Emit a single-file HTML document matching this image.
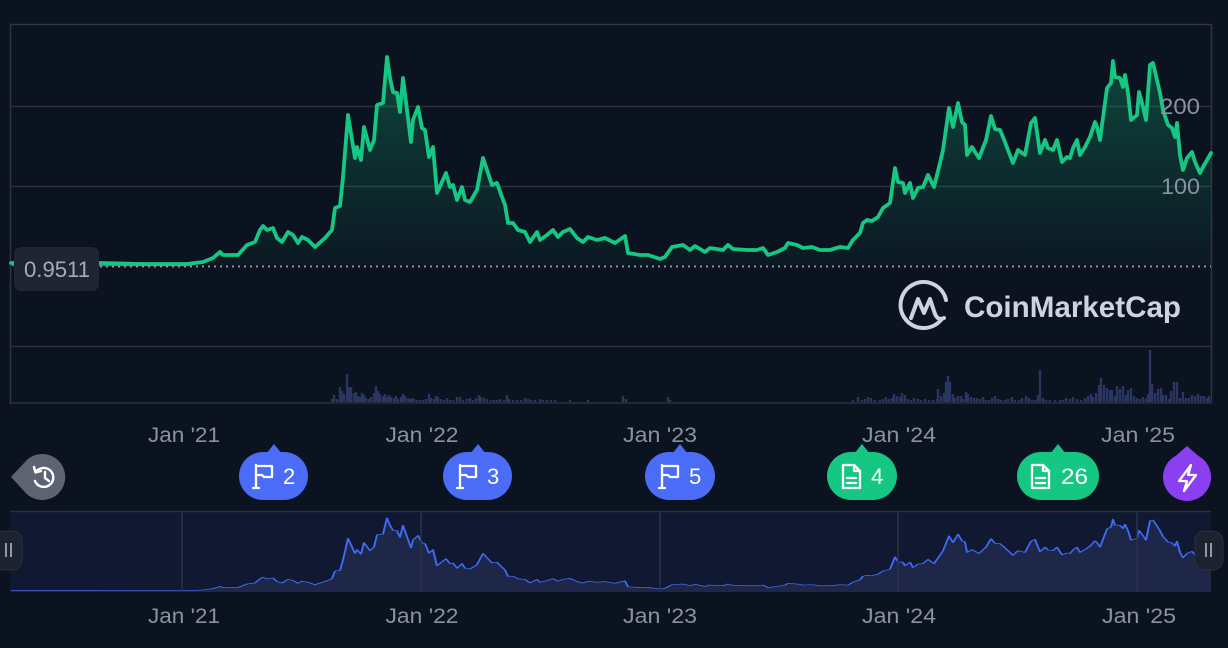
<!DOCTYPE html>
<html><head><meta charset="utf-8"><style>
html,body{margin:0;padding:0;background:#0b1320;}
svg{display:block;}
text{font-family:"Liberation Sans",sans-serif;}
</style></head><body>
<svg width="1228" height="648" viewBox="0 0 1228 648" xmlns="http://www.w3.org/2000/svg">
<defs>
<linearGradient id="gf" x1="0" y1="57" x2="0" y2="266" gradientUnits="userSpaceOnUse">
<stop offset="0" stop-color="#16c784" stop-opacity="0.28"/>
<stop offset="1" stop-color="#16c784" stop-opacity="0.03"/>
</linearGradient>
<clipPath id="navclip"><rect x="10" y="511" width="1201" height="81"/></clipPath>
<path id="pl" d="M11,263 L60,263 L100,263 L140,264 L187,264 L195,263 L203,262 L213,258 L220,252 L223,255 L238,255 L247,245 L255,242 L260,230 L263,226 L267,230 L273,228 L277,238 L282,242 L288,232 L293,235 L298,243 L302,237 L308,240 L315,247 L325,238 L332,230 L335,208 L340,206 L343,177 L348,115 L355,158 L357,147 L361,160 L364,127 L370,150 L374,140 L377,105 L383,103 L387,57 L390,78 L393,92 L397,93 L400,112 L403,78 L407,110 L411,142 L413,120 L418,107 L422,128 L425,130 L429,157 L433,147 L437,193 L446,173 L450,187 L453,185 L457,200 L462,187 L465,200 L470,202 L477,190 L483,158 L492,185 L497,183 L502,197 L505,205 L508,223 L513,223 L518,230 L525,232 L530,242 L537,232 L540,240 L547,235 L553,230 L558,237 L563,232 L570,229 L577,238 L583,242 L588,237 L597,240 L605,238 L615,243 L625,236 L628,253 L640,255 L648,255 L660,259 L665,257 L672,247 L683,245 L690,250 L695,246 L705,252 L710,248 L723,250 L728,245 L733,249 L747,250 L757,250 L763,248 L768,255 L777,252 L785,248 L788,243 L797,245 L803,248 L812,247 L820,250 L830,250 L840,247 L848,248 L853,240 L860,233 L863,223 L867,220 L872,221 L878,217 L883,208 L890,203 L895,168 L898,182 L903,183 L905,193 L910,183 L913,198 L918,188 L923,187 L928,175 L934,187 L940,163 L943,150 L949,108 L953,127 L958,103 L962,122 L965,125 L967,155 L972,147 L975,152 L979,158 L986,140 L991,116 L995,129 L1000,130 L1003,137 L1008,150 L1013,163 L1018,150 L1025,155 L1031,123 L1035,118 L1040,153 L1045,140 L1048,148 L1053,150 L1057,140 L1062,162 L1067,157 L1070,158 L1073,148 L1077,140 L1080,155 L1085,147 L1090,137 L1095,122 L1097,127 L1100,140 L1107,88 L1111,83 L1113,61 L1115,77 L1120,78 L1123,87 L1125,75 L1128,93 L1131,120 L1137,115 L1139,92 L1143,107 L1146,120 L1150,65 L1153,63 L1157,80 L1160,93 L1163,110 L1168,125 L1172,128 L1175,137 L1177,123 L1180,155 L1183,170 L1187,158 L1192,152 L1195,162 L1200,173 L1203,167 L1207,160 L1211,153"/>
</defs>

<rect x="0" y="0" width="1228" height="648" fill="#0b1320"/>

<!-- main frame -->
<line x1="10" y1="24.5" x2="1212" y2="24.5" stroke="#2e3542" stroke-width="1.5"/>
<line x1="10.5" y1="24" x2="10.5" y2="404" stroke="#2e3542" stroke-width="1.5"/>
<line x1="1211.5" y1="24" x2="1211.5" y2="404" stroke="#2e3542" stroke-width="1.5"/>
<line x1="10" y1="106.5" x2="1212" y2="106.5" stroke="#2a313d" stroke-width="1.5"/>
<line x1="10" y1="186.5" x2="1212" y2="186.5" stroke="#2a313d" stroke-width="1.5"/>
<line x1="10" y1="346.5" x2="1212" y2="346.5" stroke="#2a313d" stroke-width="1.5"/>
<line x1="10" y1="403" x2="1212" y2="403" stroke="#2a313d" stroke-width="1.5"/>

<!-- volume bars -->
<path stroke="#2b3561" stroke-width="2.4" fill="none" d="M332 402v-3M334 402v-7M337 402v-3M340 402v-15M342 402v-11M344 402v-8M347 402v-28M349 402v-15M351 402v-15M354 402v-9M356 402v-10M358 402v-6M360 402v-5M362 402v-9M364 402v-7M366 402v-4M369 402v-3M371 402v-5M374 402v-9M376 402v-16M378 402v-11M380 402v-8M383 402v-6M385 402v-8M387 402v-5M389 402v-7M391 402v-5M394 402v-4M396 402v-6M398 402v-3M401 402v-5M403 402v-8M405 402v-6M408 402v-4M410 402v-3M412 402v-4M414 402v-3M417 402v-2M420 402v-2M423 402v-2M426 402v-3M429 402v-8M431 402v-4M434 402v-3M436 402v-6M438 402v-5M441 402v-3M444 402v-2M447 402v-4M450 402v-2M453 402v-2M457 402v-5M460 402v-5M463 402v-2M467 402v-3M470 402v-4M473 402v-2M476 402v-4M479 402v-7M481 402v-5M484 402v-4M487 402v-3M491 402v-2M494 402v-2M497 402v-2M500 402v-3M504 402v-2M507 402v-7M509 402v-3M513 402v-2M517 402v-2M521 402v-2M525 402v-4M528 402v-3M531 402v-2M535 402v-2M540 402v-3M543 402v-2M547 402v-2M551 402v-2M555 402v-2M570 402v-2M588 402v-2M623 402v-6M626 402v-3M668 402v-5M670 402v-2
M853 402v-2M858 402v-5M862 402v-2M865 402v-3M868 402v-5M871 402v-4M875 402v-2M880 402v-2M883 402v-3M886 402v-5M889 402v-3M892 402v-4M894 402v-8M897 402v-6M900 402v-5M902 402v-9M905 402v-7M908 402v-3M911 402v-2M914 402v-4M918 402v-3M921 402v-2M925 402v-3M929 402v-2M933 402v-2M937 402v-3M938 402v-13M941 402v-6M944 402v-9M946 402v-20M948 402v-26M950 402v-20M953 402v-8M955 402v-4M958 402v-6M961 402v-6M963 402v-3M966 402v-10M968 402v-8M971 402v-5M974 402v-4M977 402v-4M980 402v-3M983 402v-5M986 402v-2M989 402v-2M992 402v-4M995 402v-6M998 402v-3M1001 402v-2M1005 402v-2M1008 402v-3M1012 402v-5M1015 402v-2M1019 402v-2M1022 402v-4M1026 402v-6M1029 402v-4M1032 402v-2M1035 402v-2M1038 402v-7M1040 402v-32M1043 402v-4M1046 402v-2M1050 402v-2M1055 402v-2M1060 402v-2M1063 402v-2M1066 402v-4M1070 402v-3M1073 402v-5M1077 402v-3M1081 402v-2M1085 402v-4M1088 402v-6M1091 402v-8M1093 402v-5M1096 402v-9M1099 402v-17M1101 402v-24M1104 402v-17M1107 402v-14M1110 402v-12M1112 402v-12M1115 402v-6M1117 402v-16M1120 402v-13M1123 402v-16M1126 402v-7M1128 402v-12M1131 402v-14M1134 402v-6M1137 402v-4M1140 402v-3M1143 402v-5M1146 402v-3M1148 402v-8M1150 402v-52M1152 402v-18M1155 402v-9M1158 402v-13M1161 402v-14M1163 402v-7M1166 402v-7M1169 402v-3M1171 402v-11M1174 402v-20M1177 402v-20M1180 402v-4M1183 402v-10M1186 402v-4M1189 402v-4M1192 402v-7M1195 402v-6M1198 402v-8M1201 402v-6M1204 402v-6M1207 402v-4M1209 402v-6"/>

<!-- area fill -->
<path d="M11,263 L60,263 L100,263 L140,264 L187,264 L195,263 L203,262 L213,258 L220,252 L223,255 L238,255 L247,245 L255,242 L260,230 L263,226 L267,230 L273,228 L277,238 L282,242 L288,232 L293,235 L298,243 L302,237 L308,240 L315,247 L325,238 L332,230 L335,208 L340,206 L343,177 L348,115 L355,158 L357,147 L361,160 L364,127 L370,150 L374,140 L377,105 L383,103 L387,57 L390,78 L393,92 L397,93 L400,112 L403,78 L407,110 L411,142 L413,120 L418,107 L422,128 L425,130 L429,157 L433,147 L437,193 L446,173 L450,187 L453,185 L457,200 L462,187 L465,200 L470,202 L477,190 L483,158 L492,185 L497,183 L502,197 L505,205 L508,223 L513,223 L518,230 L525,232 L530,242 L537,232 L540,240 L547,235 L553,230 L558,237 L563,232 L570,229 L577,238 L583,242 L588,237 L597,240 L605,238 L615,243 L625,236 L628,253 L640,255 L648,255 L660,259 L665,257 L672,247 L683,245 L690,250 L695,246 L705,252 L710,248 L723,250 L728,245 L733,249 L747,250 L757,250 L763,248 L768,255 L777,252 L785,248 L788,243 L797,245 L803,248 L812,247 L820,250 L830,250 L840,247 L848,248 L853,240 L860,233 L863,223 L867,220 L872,221 L878,217 L883,208 L890,203 L895,168 L898,182 L903,183 L905,193 L910,183 L913,198 L918,188 L923,187 L928,175 L934,187 L940,163 L943,150 L949,108 L953,127 L958,103 L962,122 L965,125 L967,155 L972,147 L975,152 L979,158 L986,140 L991,116 L995,129 L1000,130 L1003,137 L1008,150 L1013,163 L1018,150 L1025,155 L1031,123 L1035,118 L1040,153 L1045,140 L1048,148 L1053,150 L1057,140 L1062,162 L1067,157 L1070,158 L1073,148 L1077,140 L1080,155 L1085,147 L1090,137 L1095,122 L1097,127 L1100,140 L1107,88 L1111,83 L1113,61 L1115,77 L1120,78 L1123,87 L1125,75 L1128,93 L1131,120 L1137,115 L1139,92 L1143,107 L1146,120 L1150,65 L1153,63 L1157,80 L1160,93 L1163,110 L1168,125 L1172,128 L1175,137 L1177,123 L1180,155 L1183,170 L1187,158 L1192,152 L1195,162 L1200,173 L1203,167 L1207,160 L1211,153 L1211,266 L11,266 Z" fill="url(#gf)"/>

<!-- red below-reference segment -->
<line x1="12" y1="265.5" x2="190" y2="265.5" stroke="#ea3943" stroke-width="1.5"/>

<!-- price line -->
<use href="#pl" fill="none" stroke="#16c784" stroke-width="3.8" stroke-linejoin="round" stroke-linecap="round"/>

<!-- dotted reference line -->
<line x1="100" y1="266.5" x2="1211" y2="266.5" stroke="#8d94a3" stroke-width="2" stroke-dasharray="2 4"/>

<!-- y labels -->
<text x="1200" y="114" font-size="22" fill="#8a91a3" text-anchor="end" textLength="40" lengthAdjust="spacingAndGlyphs">200</text>
<text x="1200" y="194" font-size="22" fill="#8a91a3" text-anchor="end" textLength="39" lengthAdjust="spacingAndGlyphs">100</text>

<!-- current price box -->
<rect x="14" y="247" width="85" height="44" rx="7" fill="#1f2532"/>
<text x="24" y="277" font-size="22" fill="#a5acbd" textLength="66" lengthAdjust="spacingAndGlyphs">0.9511</text>

<!-- CoinMarketCap logo -->
<g fill="none" stroke="#cdd3e0" stroke-width="4" stroke-linecap="round" stroke-linejoin="round">
<path d="M941,320 A23,23 0 1 1 946,300"/>
<path d="M911,318 L918,299 L924,313 L930,299 L935,314 Q938,321 944,318"/>
</g>
<text x="964" y="317" font-size="30" font-weight="bold" fill="#cdd3e0" textLength="217" lengthAdjust="spacingAndGlyphs">CoinMarketCap</text>

<!-- x labels -->
<g font-size="21" fill="#8a91a3" text-anchor="middle">
<text x="184" y="442" textLength="72" lengthAdjust="spacingAndGlyphs">Jan '21</text>
<text x="422" y="442" textLength="73" lengthAdjust="spacingAndGlyphs">Jan '22</text>
<text x="660" y="442" textLength="74" lengthAdjust="spacingAndGlyphs">Jan '23</text>
<text x="899" y="442" textLength="74" lengthAdjust="spacingAndGlyphs">Jan '24</text>
<text x="1138" y="442" textLength="74" lengthAdjust="spacingAndGlyphs">Jan '25</text>
</g>

<!-- history -->
<path d="M11,477 L24,463 A23,23 0 1 1 24,491 Z" fill="#5d6372"/>
<g fill="none" stroke="#ffffff" stroke-width="2.4" stroke-linecap="round" stroke-linejoin="round">
<path d="M36,472 A9.5,9.5 0 1 1 35,481"/>
<path d="M34,467 L35.5,472.5 L41,471"/>
<path d="M45,472 V478 L49,481"/>
</g>

<!-- bubbles -->
<g fill="#4a6cf6">
<rect x="239" y="452" width="69" height="48" rx="24"/>
<path d="M266,454 L274,444 L282,454 Z"/>
<rect x="443" y="452" width="69" height="48" rx="24"/>
<path d="M470,454 L478,444 L486,454 Z"/>
<rect x="645" y="452" width="70" height="48" rx="24"/>
<path d="M672,454 L680,444 L688,454 Z"/>
</g>
<g fill="#16c784">
<rect x="827" y="452" width="70" height="48" rx="24"/>
<path d="M854,454 L862,444 L870,454 Z"/>
<rect x="1017" y="452" width="82" height="48" rx="24"/>
<path d="M1050,454 L1058,444 L1066,454 Z"/>
</g>
<g fill="#8a3ff0">
<circle cx="1187" cy="477" r="24"/>
<path d="M1171,460 L1187,446 L1203,460 Z"/>
</g>

<g fill="none" stroke="#ffffff" stroke-width="2.3" stroke-linecap="round" stroke-linejoin="round">
<path d="M256,465 V488 M253,488 H259 M256,466 H272 V477 H264 L262,475 H256"/>
<path d="M460,465 V488 M457,488 H463 M460,466 H476 V477 H468 L466,475 H460"/>
<path d="M662,465 V488 M659,488 H665 M662,466 H678 V477 H670 L668,475 H662"/>
<path d="M843,465 H854 L860,471 V488 H843 Z M854,465 V471 H860 M847,478 H856 M847,483 H856"/>
<path d="M1032,465 H1043 L1049,471 V488 H1032 Z M1043,465 V471 H1049 M1036,478 H1045 M1036,483 H1045"/>
<path d="M1191,465 L1179,481 H1187 L1184,491 L1196,475 H1188 Z"/>
</g>

<g font-size="22" fill="#ffffff">
<text x="283" y="484">2</text>
<text x="487" y="484">3</text>
<text x="689" y="484">5</text>
<text x="871" y="484">4</text>
<text x="1061" y="484" textLength="27" lengthAdjust="spacingAndGlyphs">26</text>
</g>

<!-- navigator -->
<rect x="10" y="511" width="1201" height="81" fill="#111831"/>
<line x1="10" y1="511.5" x2="1211" y2="511.5" stroke="#283042" stroke-width="1.5"/>
<g clip-path="url(#navclip)">
<g transform="translate(0,498) scale(1,0.351)">
<path d="M11,263 L60,263 L100,263 L140,264 L187,264 L195,263 L203,262 L213,258 L220,252 L223,255 L238,255 L247,245 L255,242 L260,230 L263,226 L267,230 L273,228 L277,238 L282,242 L288,232 L293,235 L298,243 L302,237 L308,240 L315,247 L325,238 L332,230 L335,208 L340,206 L343,177 L348,115 L355,158 L357,147 L361,160 L364,127 L370,150 L374,140 L377,105 L383,103 L387,57 L390,78 L393,92 L397,93 L400,112 L403,78 L407,110 L411,142 L413,120 L418,107 L422,128 L425,130 L429,157 L433,147 L437,193 L446,173 L450,187 L453,185 L457,200 L462,187 L465,200 L470,202 L477,190 L483,158 L492,185 L497,183 L502,197 L505,205 L508,223 L513,223 L518,230 L525,232 L530,242 L537,232 L540,240 L547,235 L553,230 L558,237 L563,232 L570,229 L577,238 L583,242 L588,237 L597,240 L605,238 L615,243 L625,236 L628,253 L640,255 L648,255 L660,259 L665,257 L672,247 L683,245 L690,250 L695,246 L705,252 L710,248 L723,250 L728,245 L733,249 L747,250 L757,250 L763,248 L768,255 L777,252 L785,248 L788,243 L797,245 L803,248 L812,247 L820,250 L830,250 L840,247 L848,248 L853,240 L860,233 L863,223 L867,220 L872,221 L878,217 L883,208 L890,203 L895,168 L898,182 L903,183 L905,193 L910,183 L913,198 L918,188 L923,187 L928,175 L934,187 L940,163 L943,150 L949,108 L953,127 L958,103 L962,122 L965,125 L967,155 L972,147 L975,152 L979,158 L986,140 L991,116 L995,129 L1000,130 L1003,137 L1008,150 L1013,163 L1018,150 L1025,155 L1031,123 L1035,118 L1040,153 L1045,140 L1048,148 L1053,150 L1057,140 L1062,162 L1067,157 L1070,158 L1073,148 L1077,140 L1080,155 L1085,147 L1090,137 L1095,122 L1097,127 L1100,140 L1107,88 L1111,83 L1113,61 L1115,77 L1120,78 L1123,87 L1125,75 L1128,93 L1131,120 L1137,115 L1139,92 L1143,107 L1146,120 L1150,65 L1153,63 L1157,80 L1160,93 L1163,110 L1168,125 L1172,128 L1175,137 L1177,123 L1180,155 L1183,170 L1187,158 L1192,152 L1195,162 L1200,173 L1203,167 L1207,160 L1211,153 L1211,268 L11,268 Z" fill="#1f2749"/>
<use href="#pl" fill="none" stroke="#3d6bf5" stroke-width="2" vector-effect="non-scaling-stroke" stroke-linejoin="round"/>
</g>
</g>
<g stroke="#2a3247" stroke-width="1.5">
<line x1="182" y1="512" x2="182" y2="592"/>
<line x1="421" y1="512" x2="421" y2="592"/>
<line x1="660" y1="512" x2="660" y2="592"/>
<line x1="898" y1="512" x2="898" y2="592"/>
<line x1="1137" y1="512" x2="1137" y2="592"/>
</g>

<!-- handles -->
<rect x="-6" y="531" width="28" height="39" rx="10" fill="#1d2230" stroke="#2a3040" stroke-width="1"/>
<path d="M6,543 V557 M11,543 V557" stroke="#a0a6b5" stroke-width="1.8"/>
<rect x="1195" y="531" width="28" height="39" rx="10" fill="#1d2230" stroke="#2a3040" stroke-width="1"/>
<path d="M1206,543 V557 M1211,543 V557" stroke="#a0a6b5" stroke-width="1.8"/>

<!-- navigator x labels -->
<g font-size="21" fill="#8a91a3" text-anchor="middle">
<text x="184" y="623" textLength="72" lengthAdjust="spacingAndGlyphs">Jan '21</text>
<text x="422" y="623" textLength="73" lengthAdjust="spacingAndGlyphs">Jan '22</text>
<text x="660" y="623" textLength="74" lengthAdjust="spacingAndGlyphs">Jan '23</text>
<text x="899" y="623" textLength="74" lengthAdjust="spacingAndGlyphs">Jan '24</text>
<text x="1139" y="623" textLength="74" lengthAdjust="spacingAndGlyphs">Jan '25</text>
</g>
</svg>
</body></html>
